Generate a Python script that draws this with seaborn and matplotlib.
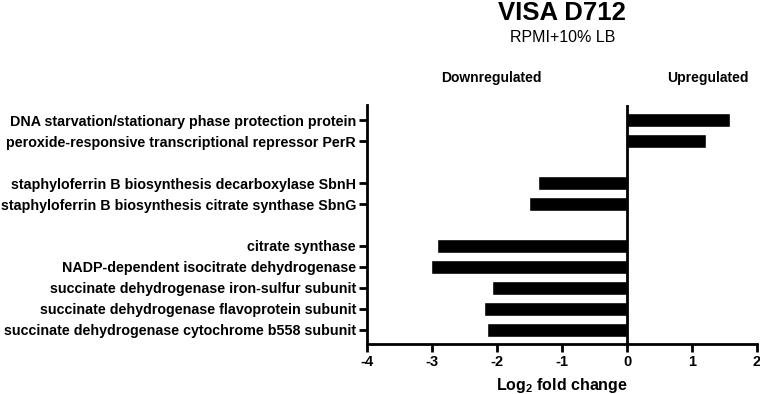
import numpy as np
import pandas as pd
import matplotlib
matplotlib.use('Agg')
import matplotlib.pyplot as plt
import seaborn as sns

# data (log2 fold change)
genes = [
    'DNA starvation/stationary phase protection protein',
    'peroxide-responsive transcriptional repressor PerR',
    ' ',
    'staphyloferrin B biosynthesis decarboxylase SbnH',
    'staphyloferrin B biosynthesis citrate synthase SbnG',
    '  ',
    'citrate synthase',
    'NADP-dependent isocitrate dehydrogenase',
    'succinate dehydrogenase iron-sulfur subunit',
    'succinate dehydrogenase flavoprotein subunit',
    'succinate dehydrogenase cytochrome b558 subunit',
]
log2fc = [1.58, 1.21, np.nan, -1.37, -1.51, np.nan, -2.92, -3.02, -2.07, -2.20, -2.15]
xticks = [-4, -3, -2, -1, 0, 1, 2]

df = pd.DataFrame({'gene': genes, 'fc': log2fc})

sns.set_style('ticks')
plt.rcParams['font.family'] = ['Liberation Sans', 'DejaVu Sans']
plt.rcParams['mathtext.fontset'] = 'custom'
plt.rcParams['mathtext.rm'] = 'Liberation Sans'
plt.rcParams['mathtext.bf'] = 'Liberation Sans:bold'
plt.rcParams['text.color'] = 'black'
plt.rcParams['axes.labelcolor'] = 'black'
plt.rcParams['xtick.color'] = 'black'
plt.rcParams['ytick.color'] = 'black'
plt.rcParams['axes.edgecolor'] = 'black'

fig = plt.figure(figsize=(7.6, 3.94), dpi=100)
ax = fig.add_axes([0.483, 0.127, 0.513, 0.606])

sns.barplot(data=df, x='fc', y='gene', order=genes, color='black',
            orient='h', width=0.67, ax=ax, saturation=1)

ax.set_xlim(-4, 2)
ax.set_ylim(10.67, -0.71)
ax.set_xticks(xticks)
ax.set_xticklabels([str(t) for t in xticks], fontsize=10.5, fontweight='bold')

# ticks only for real genes
pos = [i for i, g in enumerate(genes) if g.strip()]
ax.set_yticks(pos)
ax.set_yticklabels([genes[i] for i in pos], fontsize=10.3, fontweight='bold')

ax.axvline(0, color='black', linewidth=2, zorder=3)
for side in ['top', 'right']:
    ax.spines[side].set_visible(False)
for side in ['left', 'bottom']:
    ax.spines[side].set_linewidth(2)
ax.tick_params(axis='both', width=2, length=6, color='black', pad=2)

ax.set_ylabel('')
ax.set_xlabel('Log$_\\mathbf{2}$ fold change', fontsize=11.5, fontweight='bold', labelpad=5)

fig.text(0.74, 0.968, 'VISA D712', ha='center', va='center', fontsize=18.5, fontweight='bold')
fig.text(0.74, 0.905, 'RPMI+10% LB', ha='center', va='center', fontsize=11.5)
fig.text(0.646, 0.803, 'Downregulated', ha='center', va='center', fontsize=10, fontweight='bold')
fig.text(0.931, 0.803, 'Upregulated', ha='center', va='center', fontsize=10, fontweight='bold')

fig.savefig('out.png', dpi=100)
